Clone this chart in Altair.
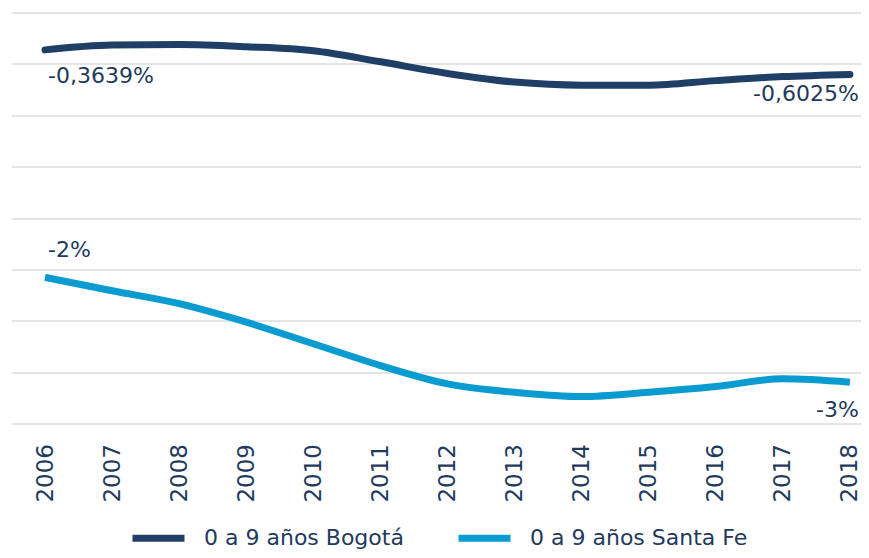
import altair as alt
import pandas as pd

FONT = "DejaVu Sans"
TEXT = "#1f3a5c"

years = list(range(2006, 2019))
series_names = ["0 a 9 años Bogotá", "0 a 9 años Santa Fe"]
colors = ["#1f3f66", "#0a9bd1"]

bogota = [-0.3639, -0.317, -0.312, -0.333, -0.372, -0.480, -0.593,
          -0.677, -0.707, -0.707, -0.663, -0.624, -0.6025]
santa_fe = [-2.578, -2.708, -2.834, -3.014, -3.224, -3.436, -3.614,
            -3.696, -3.738, -3.696, -3.640, -3.565, -3.598]

grid_values = [0, -0.5, -1, -1.5, -2, -2.5, -3, -3.5, -4]

label_years = [2006, 2018, 2006, 2018]
label_values = [bogota[0], bogota[-1], santa_fe[0], santa_fe[-1]]
label_texts = ["-0,3639%", "-0,6025%", "-2%", "-3%"]

df = pd.DataFrame({
    "year": years * 2,
    "value": bogota + santa_fe,
    "series": [series_names[0]] * len(years) + [series_names[1]] * len(years),
})
labels_df = pd.DataFrame({"year": label_years, "value": label_values, "text": label_texts})

x = alt.X("year:Q",
          scale=alt.Scale(domain=[2005.4931, 2018.1647], nice=False, zero=False),
          axis=alt.Axis(values=years, format="d", labelAngle=270, labelAlign="right",
                        labelBaseline="middle", labelPadding=20, labelFlush=False,
                        labelOverlap=False, labelBound=False, grid=False, ticks=False,
                        domain=False, title=None, labelFont=FONT, labelFontSize=23,
                        labelColor=TEXT))
y = alt.Y("value:Q",
          scale=alt.Scale(domain=[-4, 0], nice=False, zero=False),
          axis=alt.Axis(values=grid_values, labels=False, ticks=False, domain=False,
                        grid=True, gridColor="#dcdcdc", gridWidth=1.5, title=None))
color = alt.Color("series:N",
                  scale=alt.Scale(domain=series_names, range=colors),
                  legend=alt.Legend(orient="none", legendX=118, legendY=496,
                                    direction="horizontal", title=None,
                                    symbolType="stroke", symbolSize=2704,
                                    symbolStrokeWidth=7, labelFont=FONT,
                                    labelFontSize=22, labelColor=TEXT,
                                    labelOffset=16, columnPadding=40,
                                    labelLimit=400, padding=0))

base = alt.Chart(df).encode(x=x, y=y, color=color)
line_b = base.transform_filter(alt.datum.series == series_names[0]).mark_line(
    strokeWidth=7, strokeCap="round", interpolate="monotone")
line_s = base.transform_filter(alt.datum.series == series_names[1]).mark_line(
    strokeWidth=7, strokeCap="butt", interpolate="monotone")

lbase = alt.Chart(labels_df).encode(
    x=alt.X("year:Q"), y=alt.Y("value:Q"), text="text:N")
tstyle = dict(font=FONT, fontSize=22, color=TEXT, baseline="middle")
t1 = lbase.transform_filter(alt.datum.text == label_texts[0]).mark_text(align="left", dx=3, dy=26, **tstyle)
t2 = lbase.transform_filter(alt.datum.text == label_texts[1]).mark_text(align="right", dx=9, dy=20, **tstyle)
t3 = lbase.transform_filter(alt.datum.text == label_texts[2]).mark_text(align="left", dx=3, dy=-27, **tstyle)
t4 = lbase.transform_filter(alt.datum.text == label_texts[3]).mark_text(align="right", dx=9, dy=28, **tstyle)

chart = alt.layer(line_b, line_s, t1, t2, t3, t4).properties(
    width=850, height=411,
    autosize=alt.AutoSizeParams(type="none"),
    padding={"left": 3, "top": 4.5, "right": 0, "bottom": 126.5},
    background="white",
).configure_view(stroke=None)

chart.save("out.html", embed_options={"renderer": "svg", "actions": False})
